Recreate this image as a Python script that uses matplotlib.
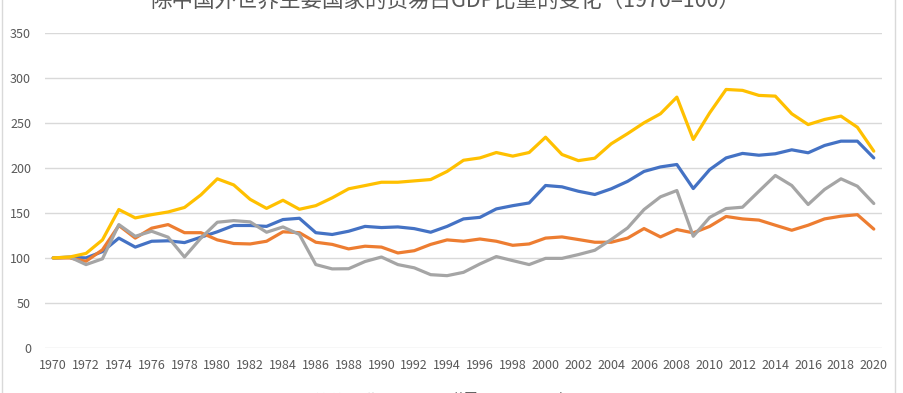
import matplotlib
matplotlib.use("Agg")
import matplotlib.pyplot as plt
from matplotlib.lines import Line2D

plt.rcParams['font.family'] = ['Noto Sans CJK SC', 'DejaVu Sans']

title = "除中国外世界主要国家的贸易占GDP比重的变化（1970=100）"
years = list(range(1970, 2021))
series_names = ["欧洲货币联盟", "英国", "日本", "美国"]

emu = [100, 100.7, 100, 107, 122, 112, 118.5, 119, 117, 123,
       129, 136, 136, 135, 142.6, 144, 128, 126, 129.6, 135,
       133.7, 134.4, 132.5, 128.5, 135, 143.3, 145, 154.4, 158, 161,
       180.4, 178.9, 174, 170.4, 176.7, 185, 196, 201, 203.7, 177,
       198, 211, 216, 214, 215.6, 220, 216.7, 224.8, 229.6, 229.6, 211]
uk = [100, 100, 96.3, 109, 136, 122, 133, 137, 128, 128,
      120, 116, 115.5, 118.5, 129, 128, 117.4, 115, 110, 113,
      112, 105.5, 108, 115, 120, 118.5, 121, 118.5, 114, 115.5,
      122, 123.3, 120.4, 117.4, 117.4, 122, 132.6, 123.3, 131.5, 127.8,
      135, 146, 143.3, 142, 136.3, 130.7, 136.3, 143.3, 146.3, 148, 132]
japan = [100, 101, 92.6, 99, 137, 124, 129.6, 123, 101, 122,
         139.6, 141.4, 140, 128.5, 134.4, 126, 92.6, 87.8, 88, 96,
         101, 92.6, 89, 81.4, 80.3, 84, 93.3, 101.5, 97, 92.6,
         99.5, 99.5, 103.7, 108.5, 120.4, 133.3, 153.7, 167.8, 174.8, 124,
         145, 154.8, 156.3, 174, 191.5, 180.4, 159.3, 176, 187.8, 179.6, 160.4]
us = [100, 101, 105, 120, 153.7, 144.4, 148, 151, 156, 170,
      187.8, 181, 165, 155, 164, 154, 158, 166.7, 176.7, 180.3,
      184, 184, 185.5, 187, 196, 208.4, 211, 217, 213, 217,
      234, 214.8, 208, 210.7, 226.7, 238, 250, 260, 278.5, 231.5,
      261, 287, 286, 280.4, 279.6, 260, 248, 253.7, 257.4, 245, 218.5]

series = [emu, uk, japan, us]
colors = ["#4472C4", "#ED7D31", "#A5A5A5", "#FFC000"]

W, H = 904, 393
fig = plt.figure(figsize=(W / 100, H / 100), dpi=100)
ax = fig.add_axes([45 / W, (H - 348) / H, 837 / W, 315.3 / H])

for vals, c, name in zip(series, colors, series_names):
    ax.plot(years, vals, color=c, lw=2.3, label=name, solid_capstyle='round', solid_joinstyle='round')

ax.set_xlim(1969.5, 2020.5)
ax.set_ylim(0, 350)
ax.set_yticks(range(0, 351, 50))
ax.set_xticks(years[::2])
ax.set_xticklabels([str(y) for y in years[::2]])
ax.grid(axis='y', color='#D9D9D9', lw=1)
ax.set_axisbelow(True)
for s in ax.spines.values():
    s.set_visible(False)
ax.tick_params(axis='both', length=0, labelsize=9, colors='#595959')
ax.tick_params(axis='y', pad=10)
ax.tick_params(axis='x', pad=8)

fig.text(445 / W, 1 - 1 / H, title, ha='center', va='center', fontsize=15.5, color='#595959')

leg = fig.legend(loc='center', bbox_to_anchor=(465 / W, -7 / H), ncol=4, frameon=False,
                 fontsize=9.5, labelcolor='#595959', handlelength=2, columnspacing=2)

fig.add_artist(Line2D([2 / W, 2 / W], [0, 1], color='#D9D9D9', lw=1, transform=fig.transFigure))
fig.add_artist(Line2D([895 / W, 895 / W], [0, 1], color='#D9D9D9', lw=1, transform=fig.transFigure))

fig.savefig("out.png", dpi=100)
